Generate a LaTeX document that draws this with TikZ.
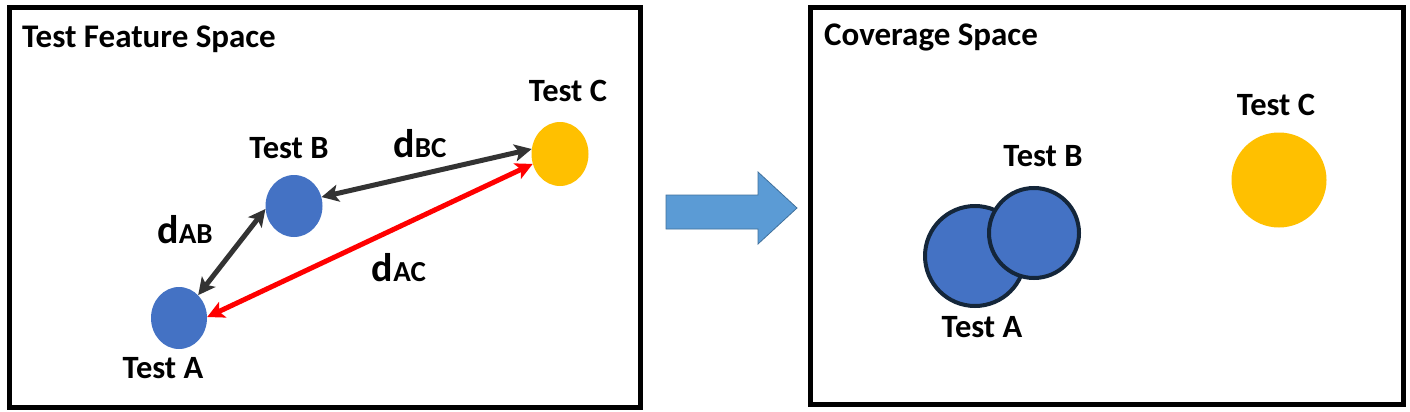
\documentclass[tikz,border=0pt]{standalone}
\usepackage{fontspec}
\setmainfont{Carlito}
\usetikzlibrary{arrows.meta,shapes.geometric}
\definecolor{nodeblue}{HTML}{4472C4}
\definecolor{nodegold}{HTML}{FFC000}
\definecolor{darkline}{HTML}{333333}
\definecolor{outlinenavy}{HTML}{14263A}
\definecolor{bigarrow}{HTML}{5B9BD5}
\definecolor{bigarrowedge}{HTML}{41719C}
\tikzset{
  frame/.style={draw=black, line width=5pt},
  lbl/.style={font=\fontsize{32.5}{32.5}\selectfont\bfseries, inner sep=0pt},
  ttl/.style={font=\fontsize{33}{33}\selectfont\bfseries, inner sep=0pt, anchor=base west},
  dlink/.style={line width=5pt, {Stealth[length=17pt,width=17pt,inset=4pt]}-{Stealth[length=17pt,width=17pt,inset=4pt]}},
}
\newcommand{\dlab}[1]{{\fontsize{40}{40}\selectfont d}{\fontsize{29}{29}\selectfont #1}}
\begin{document}
\begin{tikzpicture}[x=1pt,y=-1pt]
\useasboundingbox (0,0) rectangle (1410,412);
\fill[white] (0,0) rectangle (1410,412);
% frames
\draw[frame] (9.5,7.5) rectangle (640.5,407.5);
\draw[frame] (810.5,7.5) rectangle (1403.5,404.5);
% titles
\node[ttl] (t1) at (22,48) {Test Feature Space};
\node[ttl] (t2) at (824,46) {Coverage Space};
% left nodes
\node[ellipse, fill=nodeblue, minimum width=56pt, minimum height=62pt, inner sep=0pt] (A) at (179,318) {};
\node[ellipse, fill=nodeblue, minimum width=57pt, minimum height=62pt, inner sep=0pt] (B) at (294,206) {};
\node[ellipse, fill=nodegold, minimum width=57pt, minimum height=64pt, inner sep=0pt] (C) at (560,154) {};
\node[lbl] (la) at (163,368) {Test A};
\node[lbl] (lb) at (289,148) {Test B};
\node[lbl] (lc) at (568,91) {Test C};
\draw[dlink, draw=darkline, color=darkline] (A.50) -- (B.186);
\draw[dlink, draw=darkline, color=darkline] (B.18) -- (C.170);
\draw[dlink, draw=red, color=red] (A.2) -- (C.200);
\node[inner sep=0pt, font=\bfseries] (dab) at (185,230) {\dlab{AB}};
\node[inner sep=0pt, font=\bfseries] (dbc) at (420,144) {\dlab{BC}};
\node[inner sep=0pt, font=\bfseries] (dac) at (399,268) {\dlab{AC}};
% block arrow
\filldraw[fill=bigarrow, draw=bigarrowedge, line width=0.8pt]
  (666,195) -- (758,195) -- (758,172) -- (797,208) -- (758,244) -- (758,229) -- (666,229) -- cycle;
% right nodes
\node[circle, fill=nodeblue, draw=outlinenavy, line width=4pt, minimum size=100pt, inner sep=0pt] (A2) at (975,256) {};
\node[circle, fill=nodeblue, draw=outlinenavy, line width=4pt, minimum size=90pt, inner sep=0pt] (B2) at (1034,233) {};
\node[circle, fill=nodegold, minimum size=95pt, inner sep=0pt] (C2) at (1279,180) {};
\node[lbl] (la2) at (982,327) {Test A};
\node[lbl] (lb2) at (1043,156) {Test B};
\node[lbl] (lc2) at (1276,105) {Test C};
\end{tikzpicture}
\end{document}
